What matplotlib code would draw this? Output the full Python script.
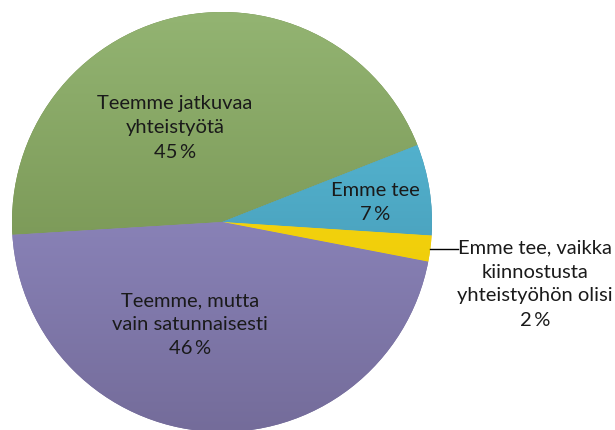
import matplotlib
matplotlib.use("Agg")
import matplotlib.pyplot as plt
import numpy as np
from matplotlib.colors import LinearSegmentedColormap

plt.rcParams['font.family'] = ['Lato', 'DejaVu Sans']

categories = ["Teemme jatkuvaa\nyhteistyötä", "Emme tee",
              "Emme tee, vaikka\nkiinnostusta\nyhteistyöhön olisi",
              "Teemme, mutta\nvain satunnaisesti"]
values = [45, 7, 2, 46]
pct_labels = ["45\u2009%", "7\u2009%", "2\u2009%", "46\u2009%"]
top_colors = ["#93b472", "#5cc3df", "#ffe31a", "#9d97d3"]
bottom_colors = ["#6a8544", "#3d8aa6", "#e6c000", "#746c9a"]

W, H = 615, 430
fig = plt.figure(figsize=(W / 100, H / 100), dpi=100)
ax = fig.add_axes([0, 0, 1, 1])

cx, cy, r = 222, H - 222, 210
wedges, _ = ax.pie(values, startangle=183.5, counterclock=False,
                   center=(cx, cy), radius=r, frame=True,
                   wedgeprops=dict(linewidth=0))

grad = np.linspace(1, 0, 256).reshape(-1, 1)
for w, tc, bc in zip(wedges, top_colors, bottom_colors):
    cmap = LinearSegmentedColormap.from_list("g", [bc, tc])
    w.set_facecolor(bc)
    im = ax.imshow(grad, cmap=cmap, aspect='auto',
                   extent=(cx - r, cx + r, cy - r, cy + r), zorder=2,
                   origin='upper', vmin=0, vmax=1)
    im.set_clip_path(w)

ax.set_xlim(0, W)
ax.set_ylim(0, H)
ax.set_aspect('equal')
ax.axis('off')

fs = 14.5
tc = "#1a1a1a"
ls = 1.5
ax.text(175, H - 128, categories[0] + "\n" + pct_labels[0], ha='center', va='center',
        fontsize=fs, color=tc, linespacing=ls, zorder=5)
ax.text(375, H - 202, categories[1] + "\n" + pct_labels[1], ha='center', va='center',
        fontsize=fs, color=tc, linespacing=ls, zorder=5)
ax.text(190, H - 325, categories[3] + "\n" + pct_labels[3], ha='center', va='center',
        fontsize=fs, color=tc, linespacing=ls, zorder=5)
ax.text(535, H - 284, categories[2] + "\n" + pct_labels[2], ha='center', va='center',
        fontsize=fs, color=tc, linespacing=ls, zorder=5)

# leader line from the small slice
theta = np.deg2rad((wedges[2].theta1 + wedges[2].theta2) / 2)
x0 = cx + r * np.cos(theta)
y0 = cy + r * np.sin(theta)
ax.plot([x0, 458], [y0, y0], color='black', lw=1, zorder=5)

fig.savefig("out.png", dpi=100)
